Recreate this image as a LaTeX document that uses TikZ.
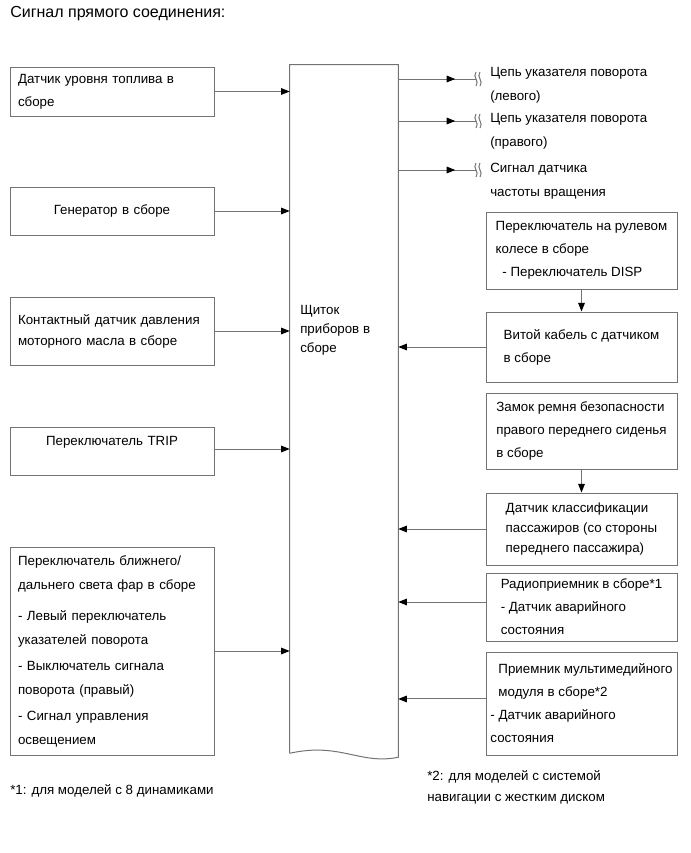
\documentclass[tikz,border=0pt]{standalone}
\usepackage{fontspec}
\setmainfont{Liberation Sans}
\usetikzlibrary{arrows.meta, positioning}

\begin{document}
\begin{tikzpicture}[
    x=0.75pt, y=-0.75pt,
    font=\fontsize{10}{17.25}\selectfont,
    leftblock/.style={rectangle, draw=black!55, line width=0.75pt, minimum width=153pt, text width=141pt, inner xsep=6pt, align=left},
    rightblock/.style={rectangle, draw=black!55, line width=0.75pt, minimum width=143.25pt, inner xsep=1pt, align=left},
    outtext/.style={anchor=west, align=left, inner sep=0pt, font=\fontsize{10}{18}\selectfont},
    line/.style={draw=black!55, line width=0.75pt, -{Triangle[length=6.5pt, width=5pt, color=black]}},
    conn/.style={draw=black!55, line width=0.75pt},
    brkmark/.pic={
        \draw[conn] (0,-7) .. controls (-4,-2) and (4,2) .. (0,7);
        \draw[conn] (4,-7) .. controls (0,-2) and (8,2) .. (4,7);
    }
]
    \useasboundingbox (0,0) rectangle (690,853);

    % Title
    \node[anchor=base west, inner sep=0pt, font=\fontsize{12}{14}\selectfont] (title) at (10,17) {Сигнал прямого соединения:};

    % Central unit
    \node[minimum width=81pt, minimum height=516pt] (panel) at (344,409) {};
    \draw[conn] (panel.south west) -- (panel.north west) -- (panel.north east) -- ([yshift=-3pt]panel.south east)
        .. controls (360,765) and (340,742) .. (panel.south west);
    \node[anchor=west, align=left, inner sep=0pt, font=\fontsize{10}{14.25}\selectfont] (paneltitle) at (300,330) {Щиток\\приборов в\\сборе};

    % Inputs on the left
    \node[leftblock, minimum height=36.75pt] (fuel) at (112,91.5) {Датчик уровня топлива в\\сборе};
    \node[leftblock, align=center, minimum height=36pt] (gen) at (112,211) {Генератор в сборе};
    \node[leftblock, minimum height=51pt, font=\fontsize{10}{15.75}\selectfont] (oil) at (112,331) {Контактный датчик давления\\моторного масла в сборе};
    \node[leftblock, align=center, minimum height=36pt, text depth=15pt] (trip) at (112,451) {Переключатель TRIP};
    \node[leftblock, minimum height=156pt, font=\fontsize{10}{18}\selectfont] (beam) at (112,651) {Переключатель ближнего/\\дальнего света фар в сборе\\[5.25pt]- Левый переключатель\\указателей поворота\\[1.5pt]- Выключатель сигнала\\поворота (правый)\\[1.5pt]- Сигнал управления\\освещением};

    % Inputs on the right
    \node[rightblock, minimum height=57.75pt] (steer) at (581.5,250.5) {Переключатель на рулевом\\колесе в сборе\\\hspace*{5pt}- Переключатель DISP};
    \node[rightblock, minimum height=52.5pt] (wire) at (581.5,347) {Витой кабель с датчиком\\в сборе};
    \node[rightblock, minimum height=57pt] (belt) at (581.5,431) {Замок ремня безопасности\\правого переднего сиденья\\в сборе};
    \node[rightblock, minimum height=54pt, font=\fontsize{10}{15}\selectfont] (occup) at (581.5,529) {Датчик классификации\\пассажиров (со стороны\\переднего пассажира)};
    \node[rightblock, minimum height=51pt] (radio) at (581.5,607) {Радиоприемник в сборе*1\\- Датчик аварийного\\состояния};
    \node[rightblock, minimum height=77.25pt] (media) at (581.5,703.5) {\hspace*{6pt}Приемник мультимедийного\\\hspace*{6pt}модуля в сборе*2\\- Датчик аварийного\\состояния};

    % Outputs
    \node[outtext] (turnl) at (490,85.5) {Цепь указателя поворота\\(левого)};
    \node[outtext] (turnr) at (490,131.5) {Цепь указателя поворота\\(правого)};
    \node[outtext] (speed) at (490,181) {Сигнал датчика\\частоты вращения};
    \coordinate (brkl) at (476,79);
    \coordinate (brkr) at (476,121);
    \coordinate (brks) at (476,170);

    % Footnotes
    \node[anchor=base west, inner sep=0pt] (note1) at (10,794) {*1: для моделей с 8 динамиками};
    \node[anchor=west, align=left, inner sep=0pt, font=\fontsize{10}{15.75}\selectfont] (note2) at (427,787.5) {*2: для моделей с системой\\навигации с жестким диском};

    % Edges
    \path [line] (fuel.east) -- (fuel.east -| panel.west);
    \path [line] (gen.east) -- (gen.east -| panel.west);
    \path [line] (oil.east) -- (oil.east -| panel.west);
    \path [line] ([yshift=1.5pt]trip.east) -- ([yshift=1.5pt]trip.east -| panel.west);
    \path [line] (beam.east) -- (beam.east -| panel.west);

    \path [line] (steer.south) -- (wire.north);
    \path [line] (belt.south) -- (occup.north);
    \path [line] (wire.west) -- (wire.west -| panel.east);
    \path [line] (occup.west) -- (occup.west -| panel.east);
    \path [line] ([yshift=3.75pt]radio.west) -- ([yshift=3.75pt]radio.west -| panel.east);
    \path [line] ([yshift=3.4pt]media.west) -- ([yshift=3.4pt]media.west -| panel.east);

    \foreach \b in {brkl, brkr, brks} {
        \path [conn] (panel.east |- \b) -- (\b);
        \path [line] (panel.east |- \b) -- ++(57,0);
        \pic at (\b) {brkmark};
    }
\end{tikzpicture}
\end{document}
